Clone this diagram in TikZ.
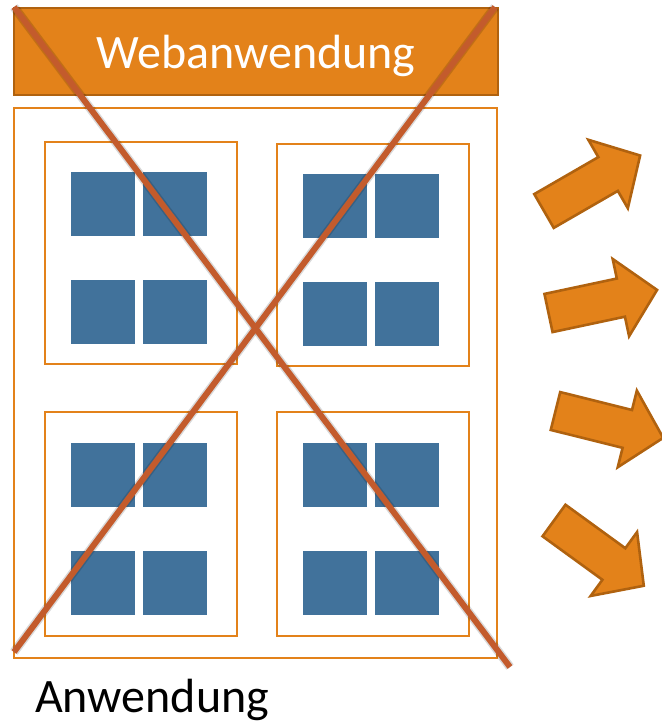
\documentclass[tikz,border=0pt]{standalone}
\usepackage{fontspec}
\setmainfont{Carlito}
\definecolor{appOrange}{HTML}{E3821A}
\definecolor{appOrangeDark}{HTML}{B0620F}
\definecolor{tileBlue}{HTML}{41729B}
\definecolor{crossRed}{HTML}{C35B2C}
\tikzset{
  frame/.style={draw=appOrange, line width=2.5pt},
  tile/.style={fill=tileBlue},
  banner/.style={fill=appOrange, draw=appOrangeDark, line width=2.8pt},
  crossline/.style={draw=crossRed, line width=6pt},
  crossshadow/.style={draw=black, opacity=0.15, line width=9pt},
  arrowbody/.style={fill=appOrange, draw=appOrangeDark, line width=2.6pt, line join=miter},
  blockarrow/.pic={
    \path[arrowbody] (0,-19.5) -- (74,-19.5) -- (74,-39.5) -- (111,0)
      -- (74,39.5) -- (74,19.5) -- (0,19.5) -- cycle;
  },
  tilegroup/.pic={
    \fill[tile] (0,0) rectangle (64,64);
    \fill[tile] (72,0) rectangle (136,64);
    \fill[tile] (0,108) rectangle (64,172);
    \fill[tile] (72,108) rectangle (136,172);
  }
}
\begin{document}
\begin{tikzpicture}[x=1pt,y=-1pt]
  \useasboundingbox (0,0) rectangle (662,724);

  % title banner
  \path[banner] (14,8) rectangle (498,95);
  \node[text=white, font=\fontsize{48}{58}\selectfont, anchor=base] (title) at (256,68) {Webanwendung};

  % application frame with its four modules
  \path[frame] (14,108) rectangle (497,658);
  \path[frame] (45,142) rectangle (237,364);
  \path[frame] (277,144) rectangle (469,366);
  \path[frame] (45,412) rectangle (237,636);
  \path[frame] (277,412) rectangle (469,636);

  \pic at (71,172) {tilegroup};
  \pic at (303,174) {tilegroup};
  \pic at (71,443) {tilegroup};
  \pic at (303,443) {tilegroup};

  \node[font=\fontsize{48}{58}\selectfont, anchor=base west, inner sep=0pt] (app) at (35,712) {Anwendung};

  % outgoing block arrows
  \pic[rotate=30]  at (544,211) {blockarrow};
  \pic[rotate=12]  at (548.5,313) {blockarrow};
  \pic[rotate=-14] at (555.5,411) {blockarrow};
  \pic[rotate=-36] at (554,520.5) {blockarrow};

  % crossing-out lines
  \coordinate (c1a) at (14,7);
  \coordinate (c1b) at (510,667);
  \coordinate (c2a) at (495,7);
  \coordinate (c2b) at (14,652);
  \draw[crossshadow, shift={(2,3)}] (c1a) -- (c1b);
  \draw[crossshadow, shift={(2,3)}] (c2a) -- (c2b);
  \draw[crossline] (c1a) -- (c1b);
  \draw[crossline] (c2a) -- (c2b);
\end{tikzpicture}
\end{document}
